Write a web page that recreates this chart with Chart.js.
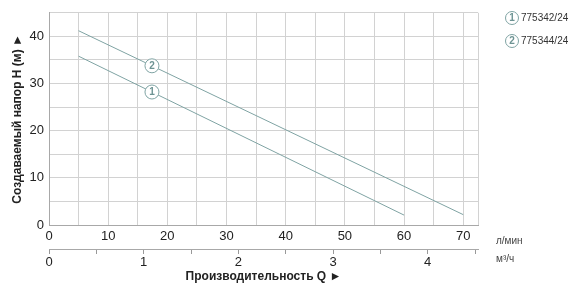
<!DOCTYPE html>
<html>
<head>
<meta charset="utf-8">
<script src="https://cdn.jsdelivr.net/npm/chart.js@4.4.1/dist/chart.umd.min.js"></script>
<style>
  html, body { margin: 0; padding: 0; background: #fff; }
</style>
</head>
<body>
<canvas id="chart" width="580" height="293"></canvas>
<script>
// pump curves: flow (l/min) vs head (m)
const flow1 = [5, 60];
const head1 = [35.8, 2.1];
const flow2 = [5, 70];
const head2 = [41.2, 2.2];
const models = ['775342/24', '775344/24'];
const markerFlow = 17.4;

const flowTicks = [0, 5, 10, 15, 20, 25, 30, 35, 40, 45, 50, 55, 60, 65, 70, 72.5];
const m3Ticks = [0, 0.5, 1, 1.5, 2, 2.5, 3, 3.5, 4, 4.5];
const flowMax = 72.5;
const lminPerM3 = 16;

const lineColor = '#7fa3a3';
const gridColor = '#d2d2d2';
const axisColor = '#a8a8a8';
const textColor = '#222';

Chart.defaults.font.family = '"Liberation Sans", Arial, sans-serif';
Chart.defaults.color = textColor;

const circled = (ctx, x, y, r, label) => {
    ctx.beginPath();
    ctx.arc(x, y, r, 0, Math.PI * 2);
    ctx.fillStyle = '#fff';
    ctx.fill();
    ctx.lineWidth = 1;
    ctx.strokeStyle = lineColor;
    ctx.stroke();
    ctx.fillStyle = '#6d9393';
    ctx.font = 'bold 10px "Liberation Sans", Arial, sans-serif';
    ctx.textAlign = 'center';
    ctx.textBaseline = 'middle';
    ctx.fillText(label, x, y + 0.5);
};

const annotations = {
    id: 'annotations',
    afterDraw(chart) {
        const ctx = chart.ctx;
        const xs = chart.scales.x;
        ctx.save();
        // numbered markers on each curve
        chart.data.datasets.forEach((ds, i) => {
            const pts = chart.getDatasetMeta(i).data;
            const a = ds.data[0], b = ds.data[ds.data.length - 1];
            const t = (markerFlow - a.x) / (b.x - a.x);
            const px = xs.getPixelForValue(markerFlow);
            const py = pts[0].y + (pts[pts.length - 1].y - pts[0].y) * t;
            circled(ctx, px, py, 7, String(i + 1));
        });
        // legend
        models.forEach((m, i) => {
            const y = 18 + i * 23;
            circled(ctx, 512, y, 6.5, String(i + 1));
            ctx.fillStyle = '#333';
            ctx.font = '10px "Liberation Sans", Arial, sans-serif';
            ctx.textAlign = 'left';
            ctx.fillText(m, 521, y);
        });
        // unit labels
        ctx.fillStyle = '#444';
        ctx.font = '10px "Liberation Sans", Arial, sans-serif';
        ctx.textAlign = 'left';
        ctx.textBaseline = 'middle';
        ctx.fillText('л/мин', 496, 241);
        ctx.fillText('м³/ч', 496, 259);
        ctx.restore();
    }
};

new Chart(document.getElementById('chart'), {
    type: 'line',
    data: {
        datasets: [
            {
                label: models[0],
                data: flow1.map((x, i) => ({ x, y: head1[i] })),
                borderColor: lineColor,
                borderWidth: 1,
                pointRadius: 0,
                fill: false,
            },
            {
                label: models[1],
                data: flow2.map((x, i) => ({ x, y: head2[i] })),
                borderColor: lineColor,
                borderWidth: 1,
                pointRadius: 0,
                fill: false,
            },
        ],
    },
    options: {
        responsive: false,
        animation: false,
        layout: { padding: { top: 10, right: 102, bottom: 8, left: 0 } },
        plugins: { legend: { display: false }, tooltip: { enabled: false } },
        scales: {
            x: {
                type: 'linear',
                position: 'bottom',
                min: 0,
                max: flowMax,
                afterBuildTicks: (s) => { s.ticks = flowTicks.map(value => ({ value })); },
                afterFit: (s) => { s.height = 24; },
                grid: { color: gridColor, drawTicks: false },
                border: { color: axisColor },
                ticks: {
                    padding: 4,
                    maxRotation: 0,
                    autoSkip: false,
                    font: { size: 13 },
                    callback: (v) => (v % 10 === 0 ? v : ''),
                },
            },
            x2: {
                type: 'linear',
                position: 'bottom',
                min: 0,
                max: flowMax / lminPerM3,
                afterBuildTicks: (s) => { s.ticks = m3Ticks.map(value => ({ value })); },
                afterFit: (s) => { s.height = 36; },
                grid: { drawOnChartArea: false, color: '#999', tickLength: 5 },
                border: { color: axisColor },
                ticks: {
                    padding: 1,
                    maxRotation: 0,
                    autoSkip: false,
                    font: { size: 13 },
                    callback: (v) => (Number.isInteger(v) ? v : ''),
                },
                title: {
                    display: true,
                    text: 'Производительность Q ►',
                    font: { size: 12, weight: 'bold' },
                    padding: { top: 0, bottom: 1 },
                },
            },
            y: {
                min: 0,
                max: 45,
                afterFit: (s) => { s.width = 49; },
                grid: { color: gridColor, drawTicks: false },
                border: { color: axisColor },
                ticks: {
                    stepSize: 5,
                    padding: 5,
                    font: { size: 13 },
                    callback: (v) => (v % 10 === 0 ? v : ''),
                },
                title: {
                    display: true,
                    text: 'Создаваемый напор H (м) ►',
                    font: { size: 12, weight: 'bold' },
                    padding: { top: 10, bottom: 0 },
                },
            },
        },
    },
    plugins: [annotations],
});
</script>
</body>
</html>
